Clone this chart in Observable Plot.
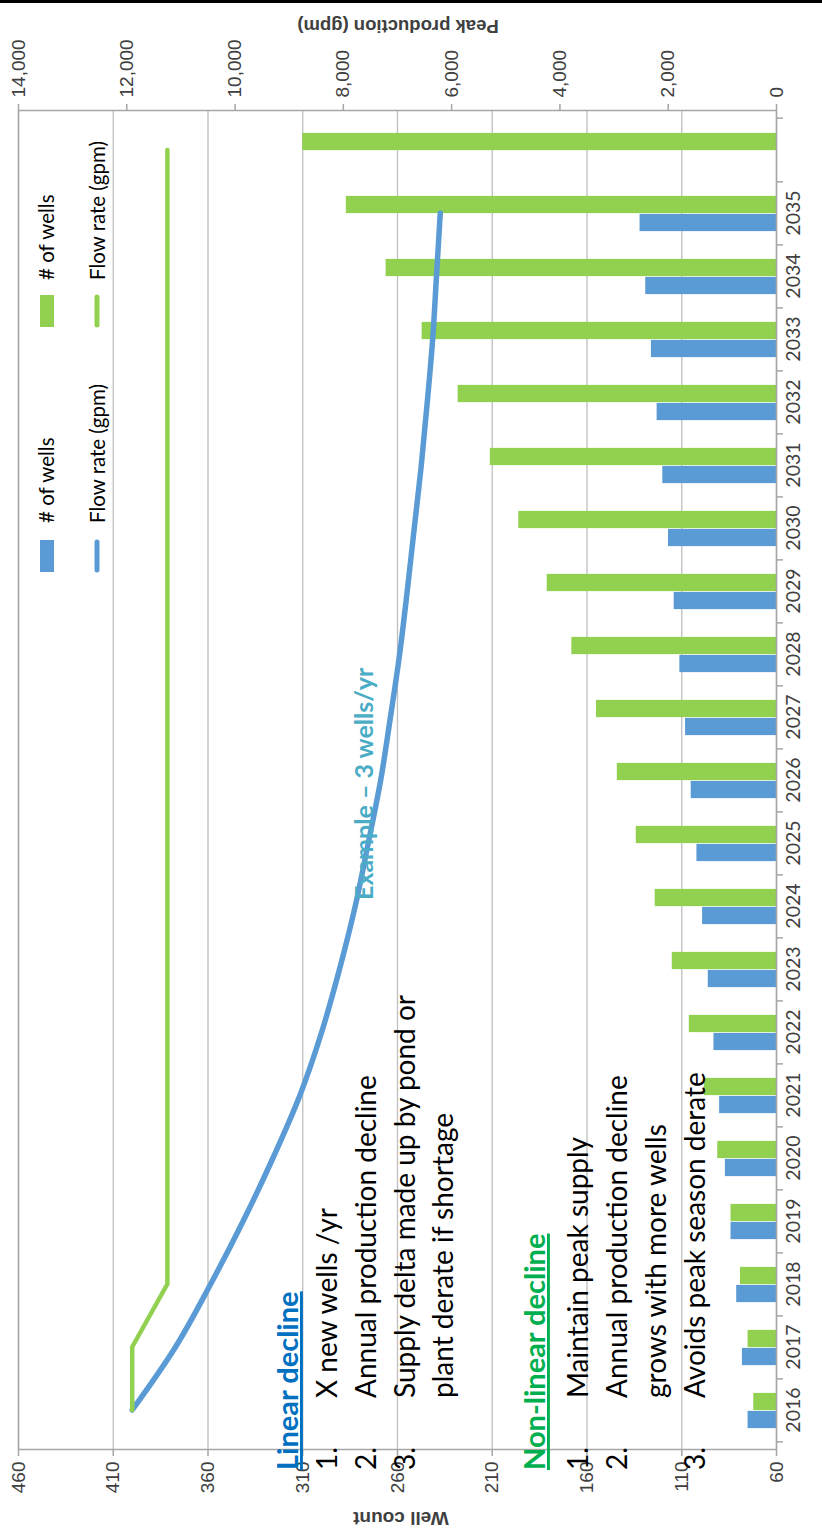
<!DOCTYPE html>
<html>
<head>
<meta charset="utf-8">
<script src="https://cdn.jsdelivr.net/npm/d3@7"></script>
<script src="https://cdn.jsdelivr.net/npm/@observablehq/plot@0.6"></script>
<style>
html, body { margin: 0; padding: 0; background: #fff; }
body { width: 822px; height: 1532px; position: relative; overflow: hidden; }
#stage { position: absolute; left: 0; top: 0; width: 1532px; height: 822px;
  transform-origin: 0 0; transform: translate(0, 1532px) rotate(-90deg); }
#stage svg { position: absolute; left: 0; top: 0; overflow: visible; }
#topbar { position: absolute; left: 0; top: 0; width: 822px; height: 3px; background: #000; }
</style>
</head>
<body>
<div id="stage"></div>
<div id="topbar"></div>
<script>
// ---- data ----
const years = ["2016","2017","2018","2019","2020","2021","2022","2023","2024","2025",
               "2026","2027","2028","2029","2030","2031","2032","2033","2034","2035","2036"];
const yearLabels = ["2016","2017","2018","2019","2020","2021","2022","2023","2024","2025",
                    "2026","2027","2028","2029","2030","2031","2032","2033","2034","2035",""];
// # of wells, linear decline scenario (blue bars), 2016-2035
const wellsLinear = [75, 78, 81, 84, 87, 90, 93, 96, 99, 102,
                     105, 108, 111, 114, 117, 120, 123, 126, 129, 132];
// # of wells, non-linear decline scenario (green bars), 2016-2036
const wellsNonLinear = [72, 75, 79, 84, 91, 98, 106, 115, 124, 134,
                        144, 155, 168, 181, 196, 211, 228, 247, 266, 287, 310];
// Flow rate (gpm), linear decline (blue line), 2016-2035
const flowLinear = [11900, 11100, 10450, 9850, 9300, 8800, 8400, 8070, 7780, 7540,
                    7310, 7130, 6960, 6820, 6690, 6560, 6450, 6350, 6280, 6210];
// Flow rate (gpm), non-linear decline (green line), 2016-2036
const flowNonLinear = [11900, 11900, 11250, 11250, 11250, 11250, 11250, 11250, 11250, 11250,
                       11250, 11250, 11250, 11250, 11250, 11250, 11250, 11250, 11250, 11250, 11250];
const wellTicks = [60, 110, 160, 210, 260, 310, 360, 410, 460];
const gpmTicks = [0, 2000, 4000, 6000, 8000, 10000, 12000, 14000];
const wellDomain = [60, 460];
const gpmDomain = [0, 14000];

// ---- colours ----
const BLUE = "#5B9BD5", GREEN = "#92D050";

// ---- layout (landscape chart, rotated -90deg onto the page) ----
const W = 1532, H = 822;
const mL = 82, mR = 111, mT = 18, mB = 46;
const bw = (W - mL - mR) / years.length;
const barW = 18;

// secondary axis: gpm mapped onto well-count units
const gpmToWell = d3.scaleLinear().domain(gpmDomain).range(wellDomain);

const linBars = wellsLinear.map((v, i) => ({year: years[i], v}));
const nlBars = wellsNonLinear.map((v, i) => ({year: years[i], v}));
const linFlow = flowLinear.map((v, i) => ({year: years[i], v}));
const nlFlow = flowNonLinear.map((v, i) => ({year: years[i], v}));

const AX = "#A6A6A6";
const TXT = "#404040";
const chart = Plot.plot({
  width: W, height: H,
  marginLeft: mL, marginRight: mR, marginTop: mT, marginBottom: mB,
  style: {fontFamily: "'Liberation Sans', Arial, sans-serif", background: "transparent", overflow: "visible"},
  x: {type: "band", domain: years, padding: 0, label: null},
  y: {domain: wellDomain, label: null},
  marks: [
    Plot.gridY(wellTicks, {stroke: "#BFBFBF", strokeOpacity: 1, strokeWidth: 1.3}),
    Plot.barY(linBars, {x: "year", y1: wellDomain[0], y2: "v", fill: BLUE,
      insetLeft: bw / 2 - barW, insetRight: bw / 2}),
    Plot.barY(nlBars, {x: "year", y1: wellDomain[0], y2: "v", fill: GREEN,
      insetLeft: bw / 2, insetRight: bw / 2 - barW}),
    Plot.line(linFlow, {x: "year", y: d => gpmToWell(d.v), stroke: BLUE, strokeWidth: 5.5,
      strokeLinecap: "round", strokeLinejoin: "round", curve: "catmull-rom"}),
    Plot.line(nlFlow, {x: "year", y: d => gpmToWell(d.v), stroke: GREEN, strokeWidth: 4.5,
      strokeLinecap: "round", strokeLinejoin: "round"}),
    Plot.frame({stroke: AX, strokeWidth: 1.5}),
    // left axis: well count
    Plot.axisY(wellTicks, {anchor: "left", tickSize: 6, tickPadding: 6, label: null,
      stroke: AX, strokeWidth: 1.5, fill: TXT, fontSize: 19}),
    // right axis: peak production (gpm)
    Plot.axisY(gpmTicks, {anchor: "right", y: d => gpmToWell(d), tickSize: 6, tickPadding: 7,
      tickFormat: d3.format(","), label: null, stroke: AX, strokeWidth: 1.5, fill: TXT, fontSize: 19}),
    // category axis: ticks between years, labels centred
    Plot.axisX({anchor: "bottom", tickSize: 7, dx: -bw / 2, stroke: AX, strokeWidth: 1.5,
      fill: "none", label: null}),
    Plot.axisX([years[years.length - 1]], {anchor: "bottom", tickSize: 7, dx: bw / 2,
      stroke: AX, strokeWidth: 1.5, fill: "none", label: null}),
    Plot.axisX({anchor: "bottom", tickSize: 0, tickPadding: 10, label: null, stroke: "none",
      tickFormat: d => yearLabels[years.indexOf(d)], fontSize: 19.5,
      fontFamily: "Lato, 'Open Sans', sans-serif", fill: TXT})
  ]
});
document.getElementById("stage").appendChild(chart);

// ---- overlay: axis titles, legend, annotations ----
const ov = d3.select("#stage").append("svg")
  .attr("width", W).attr("height", H)
  .style("font-family", "Lato, 'Open Sans', sans-serif");

function t(x, y, s, o = {}) {
  const el = ov.append("text").attr("x", x).attr("y", y).text(s)
    .attr("font-size", o.size || 28)
    .attr("fill", o.fill || "#000")
    .attr("font-weight", o.bold ? "bold" : "normal");
  if (o.anchor) el.attr("text-anchor", o.anchor);
  if (o.family) el.attr("font-family", o.family);
  if (o.underline) el.attr("text-decoration", "underline");
  if (o.rotate) el.attr("transform", `rotate(${o.rotate},${x},${y})`);
  return el;
}

// axis titles
t(20, 401, "Well count", {size: 19, bold: true, anchor: "middle", rotate: -90,
  family: "'Liberation Sans', Arial, sans-serif", fill: TXT});
t(1512, 398, "Peak production (gpm)", {size: 18.5, bold: true, anchor: "middle", rotate: -90,
  family: "'Liberation Sans', Arial, sans-serif", fill: TXT});

// legend
ov.append("rect").attr("x", 960).attr("y", 40).attr("width", 32).attr("height", 14).attr("fill", BLUE);
t(1009, 54, "# of wells", {size: 20.5});
ov.append("line").attr("x1", 962).attr("x2", 990).attr("y1", 97).attr("y2", 97)
  .attr("stroke", BLUE).attr("stroke-width", 5).attr("stroke-linecap", "round");
t(1009, 105, "Flow rate (gpm)", {size: 20.5});
ov.append("rect").attr("x", 1205).attr("y", 40).attr("width", 32).attr("height", 14).attr("fill", GREEN);
t(1252, 54, "# of wells", {size: 20.5});
ov.append("line").attr("x1", 1207).attr("x2", 1235).attr("y1", 97).attr("y2", 97)
  .attr("stroke", GREEN).attr("stroke-width", 5).attr("stroke-linecap", "round");
t(1252, 105, "Flow rate (gpm)", {size: 20.5});

// annotations
t(62, 298, "Linear decline", {bold: true, fill: "#0070C0", underline: true, size: 29});
t(62, 337, "1.");  t(134, 337, "X new wells /yr");
t(62, 376, "2.");  t(134, 376, "Annual production decline");
t(62, 415, "3.");  t(134, 415, "Supply delta made up by pond or");
t(134, 453, "plant derate if shortage");

t(62, 545, "Non-linear decline", {bold: true, fill: "#00B050", underline: true, size: 29});
t(62, 588, "1.");  t(134, 588, "Maintain peak supply");
t(62, 627, "2.");  t(134, 627, "Annual production decline");
t(134, 666, "grows with more wells");
t(62, 705, "3.");  t(134, 705, "Avoids peak season derate");

t(632, 373, "Example \u2013 3 wells/yr", {bold: true, fill: "#4BACC6", size: 25});
</script>
</body>
</html>
